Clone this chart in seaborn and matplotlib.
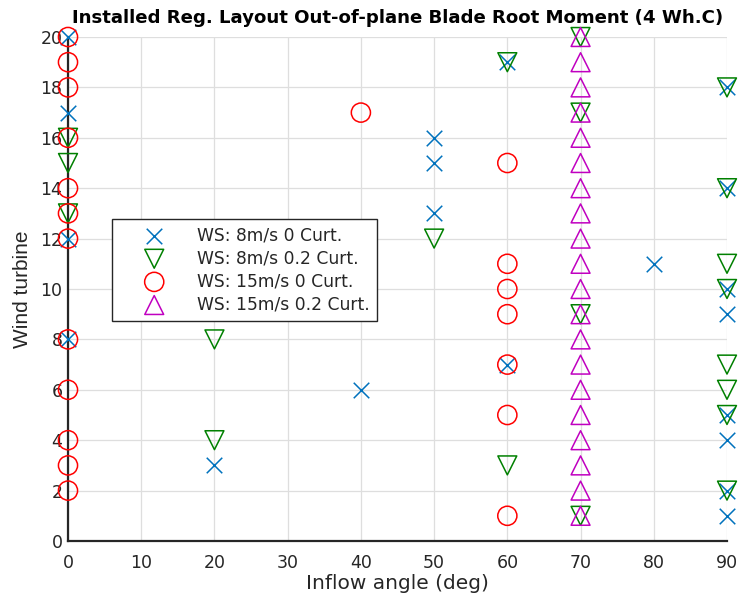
import matplotlib
matplotlib.use("Agg")
import matplotlib.pyplot as plt
import seaborn as sns
import pandas as pd

# Data: (inflow angle, wind turbine) per series
ws8_c0_angle = [0, 0, 0, 0, 20, 40, 50, 50, 50, 60, 60, 80, 90, 90, 90, 90, 90, 90, 90, 90]
ws8_c0_wt = [20, 17, 12, 8, 3, 6, 16, 15, 13, 19, 7, 11, 18, 14, 10, 9, 5, 4, 2, 1]

ws8_c02_angle = [0, 0, 0, 20, 20, 50, 60, 60, 70, 70, 70, 70, 90, 90, 90, 90, 90, 90, 90, 90]
ws8_c02_wt = [16, 15, 13, 8, 4, 12, 19, 3, 20, 17, 9, 1, 18, 14, 11, 10, 7, 6, 5, 2]

ws15_c0_angle = [0] * 12 + [40] + [60] * 7
ws15_c0_wt = [20, 19, 18, 16, 14, 13, 12, 8, 6, 4, 3, 2, 17, 15, 11, 10, 9, 7, 5, 1]

ws15_c02_angle = [70] * 20
ws15_c02_wt = list(range(1, 21))

labels = ["WS: 8m/s 0 Curt.", "WS: 8m/s 0.2 Curt.", "WS: 15m/s 0 Curt.", "WS: 15m/s 0.2 Curt."]
x_ticks = list(range(0, 91, 10))
y_ticks = list(range(0, 21, 2))

sns.set_style("white")
plt.rcParams['font.family'] = ['DejaVu Sans']

fig = plt.figure(figsize=(7.41, 6.03), dpi=100)
ax = fig.add_axes([68 / 741, (603 - 541) / 603, (727 - 68) / 741, (541 - 37) / 603])

series = [
    (ws8_c0_angle, ws8_c0_wt, 'x', '#0072BD', labels[0], 125),
    (ws8_c02_angle, ws8_c02_wt, 'v', '#008000', labels[1], 185),
    (ws15_c0_angle, ws15_c0_wt, 'o', '#FF0000', labels[2], 190),
    (ws15_c02_angle, ws15_c02_wt, '^', '#C000C0', labels[3], 185),
]

for xs, ys, m, c, lab, s in series:
    df = pd.DataFrame({"angle": xs, "wt": ys})
    if m == 'x':
        sns.scatterplot(data=df, x="angle", y="wt", marker=m, color=c, s=s,
                        linewidth=1.1, ax=ax, label=lab, clip_on=False, zorder=3)
    else:
        sns.scatterplot(data=df, x="angle", y="wt", marker=m, s=s,
                        facecolors='none', edgecolors=c, linewidth=1.1,
                        ax=ax, label=lab, clip_on=False, zorder=3)

ax.set_xlim(0, 90)
ax.set_ylim(0, 20)
ax.set_xticks(x_ticks)
ax.set_yticks(y_ticks)
ax.grid(True, color='#dedede', linewidth=0.9)
ax.set_axisbelow(True)
for side in ['top', 'right']:
    ax.spines[side].set_visible(False)
for side in ['left', 'bottom']:
    ax.spines[side].set_color('#262626')
    ax.spines[side].set_linewidth(1.6)
ax.tick_params(axis='both', direction='in', length=6, width=1.6, color='#262626',
               labelsize=12.5, labelcolor='#262626')
ax.tick_params(axis='x', pad=9)
ax.tick_params(axis='y', pad=4)
ax.set_xlabel("Inflow angle (deg)", fontsize=14.5, color='#262626', labelpad=2)
ax.set_ylabel("Wind turbine", fontsize=15, color='#262626',
              family=['Liberation Sans', 'DejaVu Sans'], labelpad=6)
ax.set_title("Installed Reg. Layout Out-of-plane Blade Root Moment (4 Wh.C)",
             fontsize=13.1, fontweight='bold', pad=10, color='black')

leg = ax.legend(loc='upper left', bbox_to_anchor=(0.0668, 0.639), fontsize=12.3,
                frameon=True, fancybox=False, edgecolor='#262626', framealpha=1,
                borderpad=0.42, handletextpad=0.45, labelspacing=0.3, borderaxespad=0,
                handlelength=4.1)
leg.get_frame().set_linewidth(1.0)

fig.savefig("out.png", dpi=100)
